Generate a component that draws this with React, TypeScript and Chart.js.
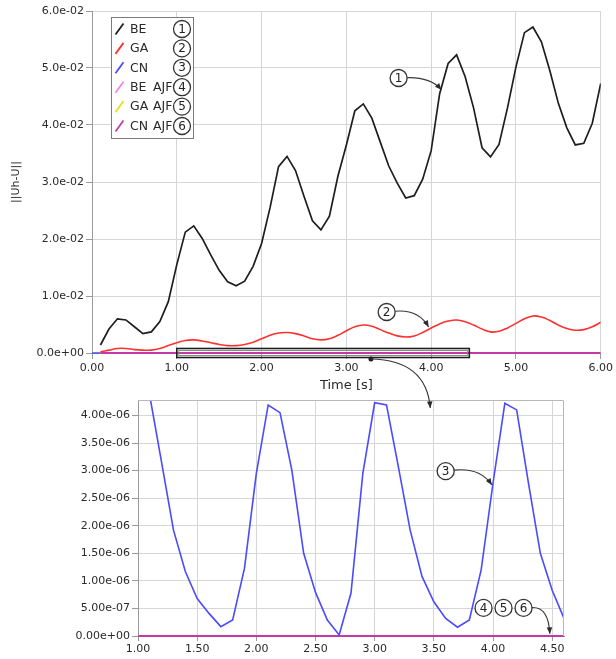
import { useEffect, useRef } from "react";
import { Chart, registerables } from "chart.js";

Chart.register(...registerables);

const FONT = '"DejaVu Sans", sans-serif';
const TEXT = "#2a2a2a";
const GRID = "#d6d6d6";
const AXIS = "#9a9a9a";

// ---- series ---------------------------------------------------------------
const seriesLabels = ["BE", "GA", "CN", "BE AJF", "GA AJF", "CN AJF"];
const seriesColors = ["#1e1e1e", "#ff3030", "#4a4aff", "#ea86ea", "#e2e22a", "#c23aa8"];
const seriesMarks = ["1", "2", "3", "4", "5", "6"];

const timeSteps = [
  0.1, 0.2, 0.3, 0.4, 0.5, 0.6, 0.7, 0.8, 0.9, 1.0,
  1.1, 1.2, 1.3, 1.4, 1.5, 1.6, 1.7, 1.8, 1.9, 2.0,
  2.1, 2.2, 2.3, 2.4, 2.5, 2.6, 2.7, 2.8, 2.9, 3.0,
  3.1, 3.2, 3.3, 3.4, 3.5, 3.6, 3.7, 3.8, 3.9, 4.0,
  4.1, 4.2, 4.3, 4.4, 4.5, 4.6, 4.7, 4.8, 4.9, 5.0,
  5.1, 5.2, 5.3, 5.4, 5.5, 5.6, 5.7, 5.8, 5.9, 6.0,
];

const beValues = [
  0.0014, 0.0042, 0.0060, 0.0058, 0.0046, 0.0034, 0.0037, 0.0055, 0.0090, 0.0155,
  0.0212, 0.0223, 0.0201, 0.0172, 0.0145, 0.0125, 0.0118, 0.0126, 0.0152, 0.0192,
  0.0255, 0.0327, 0.0345, 0.0320, 0.0275, 0.0232, 0.0216, 0.0240, 0.0310, 0.0365,
  0.0425, 0.0437, 0.0412, 0.0370, 0.0328, 0.0298, 0.0272, 0.0276, 0.0305, 0.0355,
  0.0455, 0.0508, 0.0523, 0.0485, 0.0430, 0.0360, 0.0344, 0.0366, 0.0430, 0.0502,
  0.0562, 0.0572, 0.0546, 0.0495, 0.0438, 0.0395, 0.0365, 0.0368, 0.0403, 0.0473,
];

const gaValues = [
  0.0002, 0.0005, 0.0008, 0.0008, 0.0006, 0.0005, 0.0005, 0.0008, 0.0013, 0.0018,
  0.0022, 0.0023, 0.0021, 0.0018, 0.0015, 0.0013, 0.0013, 0.0015, 0.0019, 0.0025,
  0.0031, 0.0035, 0.0036, 0.0034, 0.0030, 0.0025, 0.0023, 0.0025, 0.0031, 0.0039,
  0.0046, 0.0049, 0.0047, 0.0041, 0.0035, 0.0030, 0.0028, 0.0030, 0.0036, 0.0044,
  0.0051, 0.0056, 0.0058, 0.0055, 0.0049, 0.0042, 0.0037, 0.0038, 0.0044, 0.0052,
  0.0060, 0.0065, 0.0063, 0.0057, 0.0049, 0.0043, 0.0040, 0.0041, 0.0046, 0.0054,
];

const cnTime = [
  0.0, 1.0, 1.1, 1.2, 1.3, 1.4, 1.5, 1.6, 1.7, 1.8, 1.9, 2.0,
  2.1, 2.2, 2.3, 2.4, 2.5, 2.6, 2.7, 2.8, 2.9, 3.0,
  3.1, 3.2, 3.3, 3.4, 3.5, 3.6, 3.7, 3.8, 3.9, 4.0,
  4.1, 4.2, 4.3, 4.4, 4.5, 4.6,
];

const cnValues = [
  0, 4.9e-6, 4.35e-6, 3.14e-6, 1.92e-6, 1.17e-6, 0.68e-6, 0.41e-6, 0.17e-6, 0.29e-6, 1.23e-6, 2.95e-6,
  4.19e-6, 4.05e-6, 3.01e-6, 1.5e-6, 0.79e-6, 0.29e-6, 0.02e-6, 0.78e-6, 2.95e-6, 4.23e-6,
  4.19e-6, 3.07e-6, 1.92e-6, 1.08e-6, 0.62e-6, 0.32e-6, 0.16e-6, 0.29e-6, 1.2e-6, 2.77e-6,
  4.22e-6, 4.1e-6, 2.77e-6, 1.5e-6, 0.83e-6, 0.32e-6,
];

const ajfTime = [0.1, 6.0];
const beAjfValues = [0, 0];
const gaAjfValues = [0, 0];
const cnAjfValues = [0, 0];

// ---- axes -----------------------------------------------------------------
const mainTimeTicks = [0, 1, 2, 3, 4, 5, 6];
const mainErrorTicks = [0, 0.01, 0.02, 0.03, 0.04, 0.05, 0.06];
const zoomTimeTicks = [1.0, 1.5, 2.0, 2.5, 3.0, 3.5, 4.0, 4.5];
const zoomErrorTicks = [0, 0.5e-6, 1.0e-6, 1.5e-6, 2.0e-6, 2.5e-6, 3.0e-6, 3.5e-6, 4.0e-6];

// zoomed window marked on the main plot
const zoomWindow = [1.0, 4.45];

// callouts: circle centre, bend and arrow tip, in data units
const mainCallouts = [
  { marks: ["1"], at: [3.616, 0.04825], bend: [3.99, 0.0484], tip: [4.12, 0.0462] },
  { marks: ["2"], at: [3.475, 0.00719], bend: [3.85, 0.0077], tip: [3.97, 0.00456] },
];
const zoomCallouts = [
  { marks: ["3"], at: [3.6, 2.99e-6], bend: [3.89, 3.06e-6], tip: [3.99, 2.74e-6] },
  { marks: ["4", "5", "6"], at: [3.92, 0.51e-6], bend: [4.47, 0.53e-6], tip: [4.48, 0.04e-6] },
];

const pts = (xs: number[], ys: number[]) => xs.map((x, i) => ({ x, y: ys[i] }));

const expLabel = (v: number, digits: number) =>
  Number(v)
    .toExponential(digits)
    .replace(/e([+-])(\d+)$/, (_m, s, d) => "e" + s + (d.length < 2 ? "0" + d : d));

// lines lying on the zero axis stay whole instead of being cut in half
const edgeClip = { left: 0, top: 0, right: 0, bottom: 3 };

// ---- drawing helpers --------------------------------------------------------
function circled(ctx: CanvasRenderingContext2D, cx: number, cy: number, text: string) {
  ctx.save();
  ctx.beginPath();
  ctx.arc(cx, cy, 8.5, 0, Math.PI * 2);
  ctx.fillStyle = "#ffffff";
  ctx.fill();
  ctx.lineWidth = 1.3;
  ctx.strokeStyle = "#333";
  ctx.stroke();
  ctx.fillStyle = "#222";
  ctx.font = `12px ${FONT}`;
  ctx.textAlign = "center";
  ctx.textBaseline = "middle";
  ctx.fillText(text, cx, cy + 0.5);
  ctx.restore();
}

function curvedArrow(
  ctx: CanvasRenderingContext2D,
  x0: number, y0: number, cx: number, cy: number, x1: number, y1: number
) {
  ctx.save();
  ctx.strokeStyle = "#3a3a3a";
  ctx.fillStyle = "#2a2a2a";
  ctx.lineWidth = 1.2;
  ctx.beginPath();
  ctx.moveTo(x0, y0);
  ctx.quadraticCurveTo(cx, cy, x1, y1);
  ctx.stroke();
  const a = Math.atan2(y1 - cy, x1 - cx);
  const L = 6.5;
  const W = 2.8;
  ctx.beginPath();
  ctx.moveTo(x1, y1);
  ctx.lineTo(x1 - L * Math.cos(a) + W * Math.sin(a), y1 - L * Math.sin(a) - W * Math.cos(a));
  ctx.lineTo(x1 - L * Math.cos(a) - W * Math.sin(a), y1 - L * Math.sin(a) + W * Math.cos(a));
  ctx.closePath();
  ctx.fill();
  ctx.restore();
}

function drawCallouts(chart: any, callouts: typeof mainCallouts) {
  const { ctx, scales } = chart;
  const sx = scales.x;
  const sy = scales.y;
  callouts.forEach((c) => {
    const cx = sx.getPixelForValue(c.at[0]);
    const cy = sy.getPixelForValue(c.at[1]);
    const bx = sx.getPixelForValue(c.bend[0]);
    const by = sy.getPixelForValue(c.bend[1]);
    const tx = sx.getPixelForValue(c.tip[0]);
    const ty = sy.getPixelForValue(c.tip[1]);
    const lastX = cx + (c.marks.length - 1) * 20;
    const ang = Math.atan2(by - cy, bx - lastX);
    curvedArrow(ctx, lastX + 8.5 * Math.cos(ang), cy + 8.5 * Math.sin(ang), bx, by, tx, ty);
    c.marks.forEach((m, i) => circled(ctx, cx + i * 20, cy, m));
  });
}

const setTicks = (values: number[]) => (scale: any) => {
  scale.ticks = values.map((value) => ({ value }));
};

function axisStyle(extra: any) {
  return {
    type: "linear",
    grid: { color: GRID, tickColor: AXIS, tickLength: 6, lineWidth: 1 },
    border: { color: AXIS, width: 1 },
    ...extra,
    ticks: { color: TEXT, font: { family: FONT, size: 11 }, maxRotation: 0, autoSkip: false, ...extra.ticks },
  };
}

export default function App() {
  const mainRef = useRef<HTMLCanvasElement>(null);
  const zoomRef = useRef<HTMLCanvasElement>(null);

  useEffect(() => {
    if (!mainRef.current || !zoomRef.current) return;

    const lineSet = (i: number, xs: number[], ys: number[], extra: any = {}) => ({
      label: seriesLabels[i],
      data: pts(xs, ys),
      borderColor: seriesColors[i],
      backgroundColor: seriesColors[i],
      borderWidth: 1.6,
      pointRadius: 0,
      tension: 0,
      fill: false,
      ...extra,
    });

    const mainDecor = {
      id: "mainDecor",
      afterDatasetsDraw(chart: any) {
        const { ctx, scales } = chart;
        const x1 = scales.x.getPixelForValue(zoomWindow[0]);
        const x2 = scales.x.getPixelForValue(zoomWindow[1]);
        const y0 = scales.y.getPixelForValue(0);
        ctx.save();
        ctx.strokeStyle = "#8a8a8a";
        ctx.lineWidth = 1;
        ctx.strokeRect(x1 + 2, y0 - 2.5, x2 - x1 - 4, 5);
        ctx.strokeStyle = "#1e1e1e";
        ctx.lineWidth = 1.6;
        ctx.strokeRect(x1, y0 - 4.5, x2 - x1, 9);
        ctx.restore();
        drawCallouts(chart, mainCallouts);
      },
      afterDraw(chart: any) {
        const { ctx } = chart;
        const bx = 111;
        const by = 17;
        const bw = 82;
        const bh = 121;
        ctx.save();
        ctx.fillStyle = "#ffffff";
        ctx.fillRect(bx, by, bw, bh);
        ctx.strokeStyle = "#7a7a7a";
        ctx.lineWidth = 1;
        ctx.strokeRect(bx + 0.5, by + 0.5, bw, bh);
        chart.data.datasets.forEach((ds: any, i: number) => {
          const ry = 29 + i * 19.4;
          ctx.strokeStyle = ds.borderColor;
          ctx.lineWidth = 1.8;
          ctx.beginPath();
          ctx.moveTo(115.5, ry + 5.5);
          ctx.lineTo(123.5, ry - 5.5);
          ctx.stroke();
          ctx.fillStyle = TEXT;
          ctx.font = `12.5px ${FONT}`;
          ctx.textAlign = "left";
          ctx.textBaseline = "middle";
          const words = String(ds.label).split(" ");
          ctx.fillText(words[0], 130, ry + 0.5);
          if (words[1]) ctx.fillText(words[1], 153, ry + 0.5);
          circled(ctx, 182, ry, seriesMarks[i]);
        });
        ctx.restore();
      },
    };

    const mainChart = new Chart(mainRef.current, {
      type: "line",
      data: {
        datasets: [
          lineSet(0, timeSteps, beValues, { order: 0, borderWidth: 1.7 }),
          lineSet(1, timeSteps, gaValues, { order: 0, tension: 0.4 }),
          lineSet(2, cnTime, cnValues, { order: 4, clip: edgeClip }),
          lineSet(3, ajfTime, beAjfValues, { order: 3, borderWidth: 2, clip: edgeClip }),
          lineSet(4, ajfTime, gaAjfValues, { order: 2, borderWidth: 2, clip: edgeClip }),
          lineSet(5, ajfTime, cnAjfValues, { order: 1, borderWidth: 2, clip: edgeClip }),
        ],
      },
      options: {
        responsive: false,
        animation: false,
        devicePixelRatio: 1,
        layout: { padding: { top: 11, left: 0, right: 13, bottom: 266 } },
        plugins: { legend: { display: false }, tooltip: { enabled: false } },
        scales: {
          x: axisStyle({
            min: 0,
            max: 6,
            ticks: { padding: 3, callback: (v: any) => Number(v).toFixed(2) },
            afterBuildTicks: setTicks(mainTimeTicks),
            afterFit: (s: any) => { s.height = 40; },
            title: {
              display: true,
              text: "Time [s]",
              color: TEXT,
              font: { family: FONT, size: 13 },
              padding: { top: 0, bottom: 0 },
            },
          }),
          y: axisStyle({
            min: 0,
            max: 0.06,
            ticks: { padding: 2, callback: (v: any) => expLabel(v, 1) },
            afterBuildTicks: setTicks(mainErrorTicks),
            afterFit: (s: any) => { s.width = 92; },
            title: {
              display: true,
              text: "||Uh-U||",
              color: TEXT,
              font: { family: FONT, size: 11 },
              padding: { top: 10, bottom: 0 },
            },
          }),
        },
      },
      plugins: [mainDecor],
    } as any);

    const zoomDecor = {
      id: "zoomDecor",
      afterDatasetsDraw(chart: any) {
        const { ctx, chartArea: a } = chart;
        ctx.save();
        ctx.strokeStyle = "#b8b8b8";
        ctx.lineWidth = 1;
        ctx.beginPath();
        ctx.moveTo(a.left, a.top + 0.5);
        ctx.lineTo(a.right - 0.5, a.top + 0.5);
        ctx.lineTo(a.right - 0.5, a.bottom);
        ctx.stroke();
        ctx.restore();
        drawCallouts(chart, zoomCallouts);
      },
      afterDraw(chart: any) {
        // link from the marked window on the main plot down into this panel
        const { ctx, chartArea: a, scales } = chart;
        const mx = (mainChart as any).scales.x;
        const my = (mainChart as any).scales.y;
        const sx = mx.getPixelForValue(3.29);
        const sy = my.getPixelForValue(0) + 6;
        const ex = scales.x.getPixelForValue(3.47);
        const ey = a.top + 8;
        ctx.save();
        ctx.fillStyle = "#1e1e1e";
        ctx.beginPath();
        ctx.arc(sx, sy, 2.5, 0, Math.PI * 2);
        ctx.fill();
        ctx.restore();
        curvedArrow(ctx, sx, sy, ex - 4, sy + 1, ex, ey);
      },
    };

    const zoomChart = new Chart(zoomRef.current, {
      type: "line",
      data: {
        datasets: [
          lineSet(2, cnTime, cnValues, { order: 0, borderWidth: 1.6 }),
          lineSet(3, ajfTime, beAjfValues, { order: 3, borderWidth: 2.2, clip: edgeClip }),
          lineSet(4, ajfTime, gaAjfValues, { order: 2, borderWidth: 2.2, clip: edgeClip }),
          lineSet(5, ajfTime, cnAjfValues, { order: 1, borderWidth: 2.2, clip: edgeClip }),
        ],
      },
      options: {
        responsive: false,
        animation: false,
        devicePixelRatio: 1,
        layout: { padding: { top: 400, left: 0, right: 52, bottom: 0 } },
        plugins: { legend: { display: false }, tooltip: { enabled: false } },
        scales: {
          x: axisStyle({
            min: 1.0,
            max: 4.6,
            grid: { color: GRID, tickColor: AXIS, tickLength: 5, lineWidth: 1 },
            ticks: { padding: 2, callback: (v: any) => Number(v).toFixed(2) },
            afterBuildTicks: setTicks(zoomTimeTicks),
            afterFit: (s: any) => { s.height = 23; },
          }),
          y: axisStyle({
            min: 0,
            max: 4.28e-6,
            ticks: { padding: 2, callback: (v: any) => expLabel(v, 2) },
            afterBuildTicks: setTicks(zoomErrorTicks),
            afterFit: (s: any) => { s.width = 138; },
          }),
        },
      },
      plugins: [zoomDecor],
    } as any);

    return () => {
      zoomChart.destroy();
      mainChart.destroy();
    };
  }, []);

  const canvasStyle: any = { position: "absolute", left: 0, top: 0, display: "block" };

  return (
    <div style={{ position: "absolute", left: 0, top: 0, width: 616, height: 659, background: "#ffffff" }}>
      <canvas ref={mainRef} width={616} height={659} style={canvasStyle} />
      <canvas ref={zoomRef} width={616} height={659} style={canvasStyle} />
    </div>
  );
}
